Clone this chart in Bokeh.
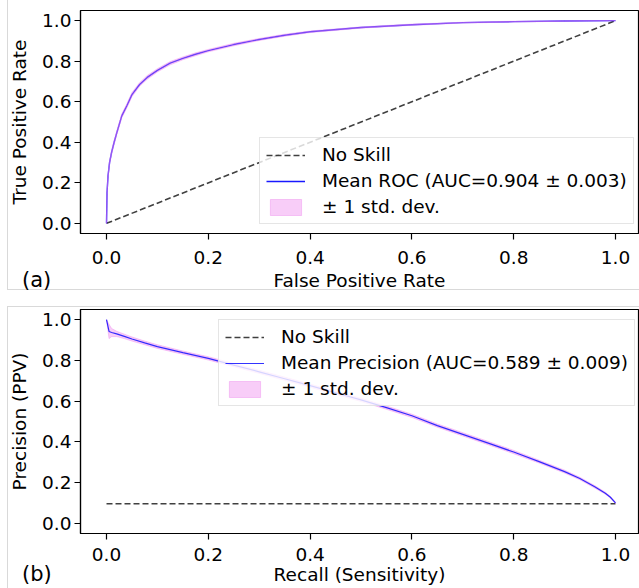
import numpy as np
from bokeh.plotting import figure
from bokeh.models import Range1d, FixedTicker, Legend, LegendItem, PrintfTickFormatter, Div
from bokeh.layouts import column
from bokeh.embed import file_html
from bokeh.resources import INLINE

# ---------------- data ----------------
# (a) ROC
fpr = [0.0, 0.001, 0.003, 0.006, 0.01, 0.015, 0.02, 0.03, 0.04, 0.05, 0.065, 0.08,
       0.1, 0.125, 0.15, 0.175, 0.2, 0.25, 0.3, 0.35, 0.4, 0.5, 0.6, 0.7, 0.8, 0.9, 1.0]
tpr_mean = [0.0, 0.15, 0.235, 0.30, 0.35, 0.40, 0.445, 0.53, 0.58, 0.635, 0.685, 0.72,
            0.755, 0.79, 0.814, 0.834, 0.852, 0.882, 0.907, 0.928, 0.945, 0.966, 0.98,
            0.99, 0.995, 0.998, 1.0]
tpr_std = [0.0, 0.008, 0.01, 0.01, 0.01, 0.01, 0.01, 0.01, 0.01, 0.01, 0.009, 0.009,
           0.008, 0.008, 0.007, 0.007, 0.006, 0.006, 0.005, 0.005, 0.004, 0.003, 0.003,
           0.002, 0.002, 0.001, 0.0]
roc_noskill_x = [0.0, 1.0]
roc_noskill_y = [0.0, 1.0]
roc_labels = ["No Skill", "Mean ROC (AUC=0.904 \u00b1 0.003)", "\u00b1 1 std. dev."]

# (b) Precision-Recall
recall = [0.0, 0.005, 0.01, 0.02, 0.035, 0.05, 0.075, 0.1, 0.15, 0.2, 0.25, 0.3, 0.35,
          0.4, 0.45, 0.5, 0.55, 0.6, 0.65, 0.7, 0.75, 0.8, 0.85, 0.9, 0.93, 0.96, 0.98,
          0.99, 1.0]
prec_mean = [1.0, 0.942, 0.937, 0.93, 0.918, 0.905, 0.886, 0.868, 0.838, 0.81, 0.777,
             0.744, 0.71, 0.676, 0.641, 0.606, 0.568, 0.528, 0.48, 0.437, 0.394, 0.35,
             0.303, 0.254, 0.22, 0.178, 0.148, 0.128, 0.10]
prec_std = [0.0, 0.035, 0.02, 0.013, 0.011, 0.01, 0.009, 0.009, 0.008, 0.008, 0.008,
            0.008, 0.008, 0.008, 0.008, 0.008, 0.008, 0.008, 0.008, 0.008, 0.008, 0.008,
            0.007, 0.007, 0.006, 0.006, 0.005, 0.004, 0.003]
pr_noskill_x = [0.0, 1.0]
pr_noskill_y = [0.096, 0.096]
pr_labels = ["No Skill", "Mean Precision (AUC=0.589 \u00b1 0.009)", "\u00b1 1 std. dev."]

tick_vals = [0.0, 0.2, 0.4, 0.6, 0.8, 1.0]
tick_labels = ["0.0", "0.2", "0.4", "0.6", "0.8", "1.0"]
panel_tags = ["(a)", "(b)"]

FONT = "DejaVu Sans"
FS = "18.5px"
PANEL_EDGE = "1px solid #d9d9d9"


def make_fig(height, btop, bbottom, xlabel, ylabel, xt_standoff, xl_standoff):
    p = figure(width=639, height=height, output_backend="svg", toolbar_location=None,
               x_range=Range1d(-0.0511, 1.0452), y_range=Range1d(-0.05, 1.05),
               min_border_left=80, min_border_right=1,
               min_border_top=btop, min_border_bottom=bbottom)
    p.grid.visible = False
    p.outline_line_color = "black"
    p.outline_line_width = 1.2
    p.outline_line_alpha = 1.0
    p.background_fill_color = "white"
    p.border_fill_color = "white"
    for ax in (p.xaxis[0], p.yaxis[0]):
        ax.ticker = FixedTicker(ticks=tick_vals)
        ax.formatter = PrintfTickFormatter(format="%.1f")
        ax.major_label_overrides = {v: l for v, l in zip(tick_vals, tick_labels)}
        ax.major_tick_out = 6
        ax.major_tick_in = 0
        ax.minor_tick_out = 0
        ax.minor_tick_in = 0
        ax.major_tick_line_width = 1.2
        ax.major_tick_line_color = "black"
        ax.axis_line_color = "black"
        ax.axis_line_width = 1.2
        ax.major_label_text_font = FONT
        ax.major_label_text_font_size = FS
        ax.major_label_text_color = "black"
        ax.axis_label_text_font = FONT
        ax.axis_label_text_font_size = FS
        ax.axis_label_text_font_style = "normal"
        ax.axis_label_text_color = "black"
    p.xaxis[0].major_label_standoff = xt_standoff
    p.xaxis[0].axis_label = xlabel
    p.xaxis[0].axis_label_standoff = xl_standoff
    p.yaxis[0].major_label_standoff = 3
    p.yaxis[0].axis_label = ylabel
    p.yaxis[0].axis_label_standoff = 9
    return p


def add_curves(p, x, m, s, ns_x, ns_y, labels, loc, dash_w, line_w, band_on_top):
    upper = [a + b for a, b in zip(m, s)]
    lower = [a - b for a, b in zip(m, s)]
    r_ns = p.line(ns_x, ns_y, line_color="black", line_alpha=0.75,
                  line_dash="6 3", line_width=dash_w)
    if band_on_top:
        r_mean = p.line(x, m, line_color="blue", line_alpha=0.9, line_width=line_w)
    r_band = p.patch(list(x) + list(x)[::-1], upper + lower[::-1],
                     fill_color="violet", fill_alpha=0.4,
                     line_color="violet", line_alpha=0.4, line_width=1)
    if not band_on_top:
        r_mean = p.line(x, m, line_color="blue", line_alpha=0.8, line_width=line_w)
    legend = Legend(items=[LegendItem(label=labels[0], renderers=[r_ns]),
                           LegendItem(label=labels[1], renderers=[r_mean]),
                           LegendItem(label=labels[2], renderers=[r_band])],
                    location=loc, margin=0, padding=6, spacing=5,
                    glyph_width=39, glyph_height=20, label_height=20,
                    label_standoff=17,
                    label_text_font=FONT, label_text_font_size=FS,
                    label_text_color="black",
                    border_line_color="#cccccc", border_line_width=1,
                    background_fill_color="white", background_fill_alpha=0.8)
    p.add_layout(legend)


def overlay_div(text, width, height, up, extra):
    # element laid over the bottom of the preceding figure (net height 0)
    st = {"margin": "-%dpx 0px %dpx 0px" % (up, up - height),
          "position": "relative", "z-index": "5", "box-sizing": "border-box",
          "pointer-events": "none"}
    st.update(extra)
    return Div(text=text, width=width, height=height, styles=st)


def tag_div(text, up, lh):
    return overlay_div(text, 40, 24, up,
                       {"padding-left": "22px", "font-family": FONT, "font-size": "21px",
                        "line-height": lh, "color": "black"})


pa = make_fig(294, 10, 61, "False Positive Rate", "True Positive Rate", 11, 3)
add_curves(pa, fpr, tpr_mean, tpr_std, roc_noskill_x, roc_noskill_y,
           roc_labels, (179, 9), 1.6, 1.4, True)

pb = make_fig(294, 15, 55, "Recall (Sensitivity)", "Precision (PPV)", 8, 0)
add_curves(pb, recall, prec_mean, prec_std, pr_noskill_x, pr_noskill_y,
           pr_labels, (138, 127), 1.3, 1.2, False)

# light panel edges: panel (a) ends at y=290, panel (b) starts at y=306
edge_a = overlay_div("", 632, 290, 294,
                     {"margin-left": "7px", "border-left": PANEL_EDGE,
                      "border-bottom": PANEL_EDGE})
edge_b = overlay_div("", 632, 282, 282,
                     {"margin-left": "7px", "border-left": PANEL_EDGE,
                      "border-top": PANEL_EDGE})

layout = column(pa, edge_a, tag_div(panel_tags[0], 28, "28px"),
                pb, edge_b, tag_div(panel_tags[1], 26, "24px"), spacing=0)
open("out.html", "w").write(file_html(layout, INLINE))
